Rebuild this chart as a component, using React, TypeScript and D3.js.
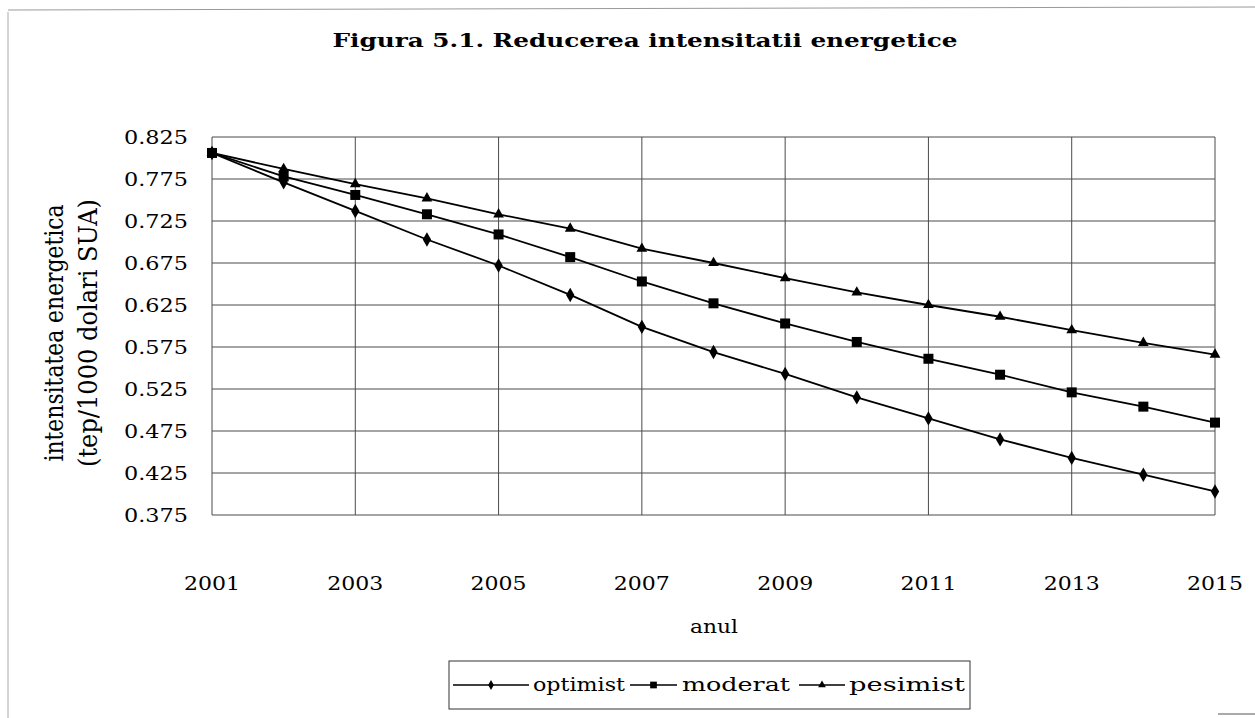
// Figura 5.1 - energy intensity reduction, D3 line chart
import { useEffect, useRef } from 'react'
import * as d3 from 'd3'

const years = [2001, 2002, 2003, 2004, 2005, 2006, 2007, 2008, 2009, 2010, 2011, 2012, 2013, 2014, 2015]
const optimist = [0.806, 0.771, 0.737, 0.703, 0.672, 0.637, 0.599, 0.569, 0.543, 0.515, 0.49, 0.465, 0.443, 0.423, 0.403]
const moderat = [0.806, 0.778, 0.756, 0.733, 0.709, 0.682, 0.653, 0.627, 0.603, 0.581, 0.561, 0.542, 0.521, 0.504, 0.485]
const pesimist = [0.806, 0.787, 0.769, 0.752, 0.733, 0.716, 0.692, 0.675, 0.657, 0.64, 0.625, 0.611, 0.595, 0.58, 0.566]
const yTicks = [0.825, 0.775, 0.725, 0.675, 0.625, 0.575, 0.525, 0.475, 0.425, 0.375]
const xTicks = [2001, 2003, 2005, 2007, 2009, 2011, 2013, 2015]
const seriesNames = ['optimist', 'moderat', 'pesimist']

const W = 1255
const H = 718
const FONT = '"DejaVu Serif", serif'

export default function App() {
  const svgRef = useRef<SVGSVGElement>(null)

  useEffect(() => {
    if (!svgRef.current) return
    const svg = d3.select(svgRef.current)
    svg.selectAll('*').remove()

    const plot = { left: 212, right: 1215, top: 137, bottom: 515 }

    const x = d3.scaleLinear().domain([2001, 2015]).range([plot.left, plot.right])
    const y = d3.scaleLinear().domain([0.375, 0.825]).range([plot.bottom, plot.top])

    svg.append('rect').attr('width', W).attr('height', H).attr('fill', '#fff')

    // scanned page edges
    svg.append('line').attr('x1', 8).attr('x2', 1255).attr('y1', 10).attr('y2', 7)
      .attr('stroke', '#999').attr('stroke-width', 1)
    svg.append('line').attr('x1', 8).attr('x2', 8).attr('y1', 12).attr('y2', 718)
      .attr('stroke', '#aaa').attr('stroke-width', 1)
    svg.append('line').attr('x1', 1218).attr('x2', 1255).attr('y1', 714).attr('y2', 714)
      .attr('stroke', '#555').attr('stroke-width', 1)

    // title (scan is stretched horizontally, so text gets a textLength)
    svg.append('text')
      .attr('x', 645).attr('y', 47)
      .attr('text-anchor', 'middle')
      .attr('font-family', FONT)
      .attr('font-weight', 'bold')
      .attr('font-size', 19)
      .attr('textLength', 625)
      .attr('lengthAdjust', 'spacingAndGlyphs')
      .text('Figura 5.1. Reducerea intensitatii energetice')

    const g = svg.append('g')

    // grid
    g.selectAll('.hgrid').data(yTicks).enter().append('line')
      .attr('x1', plot.left).attr('x2', plot.right)
      .attr('y1', d => y(d)).attr('y2', d => y(d))
      .attr('stroke', '#4a4a4a').attr('stroke-width', 1)
    g.selectAll('.vgrid').data(xTicks).enter().append('line')
      .attr('x1', d => x(d)).attr('x2', d => x(d))
      .attr('y1', plot.top).attr('y2', plot.bottom)
      .attr('stroke', '#4a4a4a').attr('stroke-width', 1)

    // tick labels
    g.selectAll('.ylab').data(yTicks).enter().append('text')
      .attr('x', 124).attr('y', d => y(d) + 6.5)
      .attr('font-family', FONT).attr('font-size', 18)
      .attr('textLength', 64).attr('lengthAdjust', 'spacingAndGlyphs')
      .text(d => d.toFixed(3))
    g.selectAll('.xlab').data(xTicks).enter().append('text')
      .attr('x', d => x(d) - 28).attr('y', 590)
      .attr('font-family', FONT).attr('font-size', 18)
      .attr('textLength', 56).attr('lengthAdjust', 'spacingAndGlyphs')
      .text(d => String(d))

    // axis titles
    svg.append('text')
      .attr('x', 690).attr('y', 633)
      .attr('font-family', FONT).attr('font-size', 18)
      .attr('textLength', 48).attr('lengthAdjust', 'spacingAndGlyphs')
      .text('anul')
    svg.append('text')
      .attr('transform', 'translate(63,333) scale(1.4,1) rotate(-90)')
      .attr('text-anchor', 'middle').attr('font-family', FONT).attr('font-size', 18)
      .attr('textLength', 257).attr('lengthAdjust', 'spacingAndGlyphs')
      .text('intensitatea energetica')
    svg.append('text')
      .attr('transform', 'translate(97,333) scale(1.4,1) rotate(-90)')
      .attr('text-anchor', 'middle').attr('font-family', FONT).attr('font-size', 18)
      .attr('textLength', 268).attr('lengthAdjust', 'spacingAndGlyphs')
      .text('(tep/1000 dolari SUA)')

    const allSeries = [optimist, moderat, pesimist]
    const symbolTypes = [d3.symbolDiamond, d3.symbolSquare, d3.symbolTriangle]
    const sizes = [60, 100, 50]

    const line = d3.line<number>()
      .x((_, i) => x(years[i]))
      .y(d => y(d))

    allSeries.forEach((vals, si) => {
      g.append('path')
        .datum(vals)
        .attr('fill', 'none')
        .attr('stroke', '#000')
        .attr('stroke-width', 1.8)
        .attr('d', line)
      g.selectAll('.m' + si).data(vals).enter().append('path')
        .attr('transform', (d, i) => `translate(${x(years[i])},${y(d)})`)
        .attr('d', d3.symbol(symbolTypes[si], sizes[si])())
        .attr('fill', '#000')
    })

    // legend
    const leg = svg.append('g')
    leg.append('rect')
      .attr('x', 449).attr('y', 661).attr('width', 521).attr('height', 48)
      .attr('fill', 'none').attr('stroke', '#333').attr('stroke-width', 1)
    const legLine = [[453, 529], [630, 677], [799, 845]]
    const legText = [533, 682, 849]
    const legTextLen = [92, 108, 116]
    const legSizes = [28, 45, 26]
    seriesNames.forEach((name, si) => {
      const [a, b] = legLine[si]
      leg.append('line')
        .attr('x1', a).attr('x2', b).attr('y1', 685).attr('y2', 685)
        .attr('stroke', '#000').attr('stroke-width', 1.5)
      leg.append('path')
        .attr('transform', `translate(${(a + b) / 2},685)`)
        .attr('d', d3.symbol(symbolTypes[si], legSizes[si])())
        .attr('fill', '#000')
      leg.append('text')
        .attr('x', legText[si]).attr('y', 691)
        .attr('font-family', FONT).attr('font-size', 18)
        .attr('textLength', legTextLen[si]).attr('lengthAdjust', 'spacingAndGlyphs')
        .text(name)
    })
  }, [])

  return (
    <div style={{ position: 'absolute', left: 0, top: 0 }}>
      <svg ref={svgRef} width={W} height={H} style={{ display: 'block' }} />
    </div>
  )
}
